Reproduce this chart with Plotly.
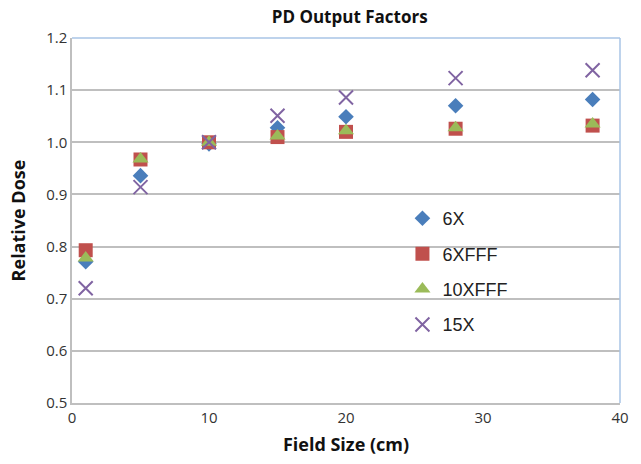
import plotly.graph_objects as go

# Field sizes (cm) and relative dose per beam energy
field_size = [1, 5, 10, 15, 20, 28, 38]
dose_6x = [0.771, 0.936, 0.997, 1.028, 1.049, 1.070, 1.082]
dose_6xfff = [0.793, 0.967, 1.000, 1.010, 1.020, 1.026, 1.032]
dose_10xfff = [0.778, 0.968, 1.000, 1.012, 1.022, 1.028, 1.035]
dose_15x = [0.720, 0.914, 1.000, 1.051, 1.086, 1.123, 1.138]

y_ticks = [0.5, 0.6, 0.7, 0.8, 0.9, 1.0, 1.1, 1.2]
y_labels = ["0.5", "0.6", "0.7", "0.8", "0.9", "1.0", "1.1", "1.2"]
x_ticks = [0, 10, 20, 30, 40]

series = [
    ("6X", dose_6x, "#4A7EBB", "diamond", 12, None),
    ("6XFFF", dose_6xfff, "#C0504D", "square", 14, None),
    ("10XFFF", dose_10xfff, "#9BBB59", "triangle-up", 14, None),
    ("15X", dose_15x, "#8064A2", "x-thin", 14, 2),
]

fig = go.Figure()
for name, vals, color, symbol, size, lw in series:
    marker = dict(symbol=symbol, size=size, color=color)
    if lw:
        marker["line"] = dict(color=color, width=lw)
    else:
        marker["line"] = dict(width=0)
    fig.add_trace(go.Scatter(
        x=field_size, y=vals, mode="markers", name=name,
        legendgroup=name, marker=marker,
    ))

font_family = "Open Sans, Liberation Sans, sans-serif"

fig.update_layout(
    width=641, height=464,
    margin=dict(l=72, r=12, t=38, b=59),
    paper_bgcolor="white", plot_bgcolor="white",
    font=dict(family=font_family, color="#333333"),
    title=dict(text="<b>PD Output Factors</b>", x=0.5455, xanchor="center",
               y=0.963, yanchor="middle",
               font=dict(size=17, color="#111111")),
    xaxis=dict(
        range=[0, 40], tickvals=x_ticks, showgrid=False, zeroline=False,
        showline=True, linecolor="#BFBFBF", linewidth=1.5,
        ticks="", tickfont=dict(size=15, color="#333333"),
        title=dict(text="<b>Field Size (cm)</b>", standoff=13,
                   font=dict(size=18, color="#111111")),
    ),
    yaxis=dict(
        range=[0.5, 1.2], tickvals=y_ticks, ticktext=y_labels,
        showgrid=True, gridcolor="#BFBFBF", gridwidth=1.5, zeroline=False,
        showline=True, linecolor="#BFBFBF", linewidth=1.5,
        ticks="", tickfont=dict(size=15, color="#333333"),
        title=dict(text="<b>Relative Dose</b>", standoff=16,
                   font=dict(size=18, color="#111111")),
    ),
    legend=dict(
        x=0.603, y=0.556, xanchor="left", yanchor="top",
        bgcolor="rgba(0,0,0,0)",
        font=dict(size=18, color="#222222", family="Liberation Sans, Arial, sans-serif"),
        tracegroupgap=9, itemwidth=30,
    ),
    showlegend=True,
)

# light blue frame along the top and right edges of the plot area
fig.add_shape(type="line", xref="paper", yref="paper", x0=0, x1=1, y0=1, y1=1,
              line=dict(color="#A8C4E6", width=1.5))
fig.add_shape(type="line", xref="paper", yref="paper", x0=1, x1=1, y0=0, y1=1,
              line=dict(color="#A8C4E6", width=1.5))

fig.write_html("out.html")
